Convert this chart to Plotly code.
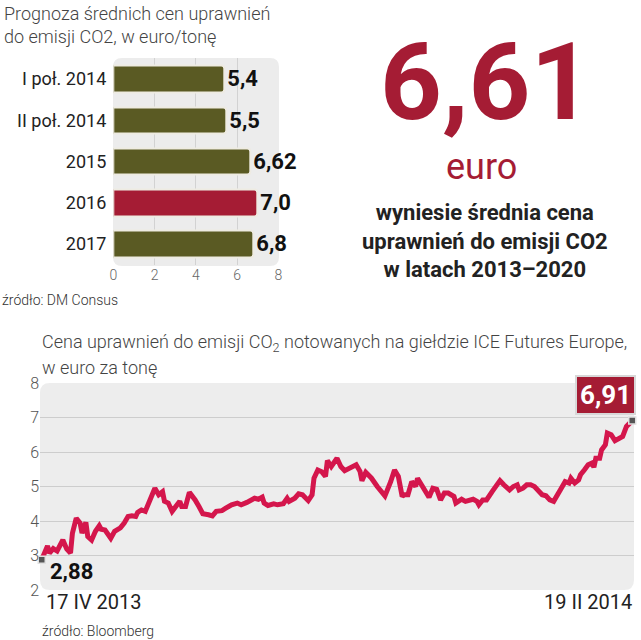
import pandas as pd
import plotly.graph_objects as go

# --- forecast bars (DM Consus)
bar_cats = ["I poł. 2014", "II poł. 2014", "2015", "2016", "2017"]
bar_vals = [5.4, 5.5, 6.62, 7.0, 6.8]
bar_text = ["5,4", "5,5", "6,62", "7,0", "6,8"]
bar_colors = ["#5a5a23", "#5a5a23", "#5a5a23", "#a51c34", "#5a5a23"]

# --- ICE Futures Europe price, days after 17 IV 2013
price_start = "2013-04-17"
price_days = [
    0, 3, 4, 6, 8, 10, 11, 13, 15, 16, 18, 20, 21, 23, 24, 26, 28, 30, 31, 33,
    35, 36, 38, 41, 43, 45, 47, 49, 50, 52, 54, 56, 57, 59, 61, 63, 64, 66, 68, 70,
    72, 73, 75, 77, 79, 80, 82, 84, 87, 89, 91, 94, 96, 99, 102, 104, 107, 109, 111, 113,
    115, 116, 118, 121, 123, 126, 128, 129, 132, 134, 136, 139, 141, 142, 144, 146, 148, 149, 151, 154,
    156, 158, 160, 162, 164, 166, 167, 169, 172, 175, 177, 179, 182, 184, 186, 188, 189, 191, 193, 195,
    196, 198, 201, 202, 204, 206, 208, 210, 212, 215, 216, 219, 221, 223, 225, 227, 228, 230, 232, 235,
    237, 239, 241, 242, 244, 246, 248, 249, 251, 253, 255, 257, 259, 261, 263, 265, 267, 269, 271, 273,
    275, 276, 278, 280, 281, 283, 285, 287, 288, 289, 291, 292, 294, 295, 297, 299, 301, 303, 305, 307,
    308,
]
price_vals = [
    2.88, 3.28, 3.07, 3.20, 3.13, 3.31, 3.45, 3.19, 3.07, 3.65, 4.08, 3.94, 3.65, 3.96, 3.55, 3.45, 3.70, 3.86, 3.76, 3.74,
    3.60, 3.50, 3.70, 3.80, 3.94, 4.13, 4.15, 4.13, 4.25, 4.32, 4.28, 4.57, 4.66, 4.95, 4.76, 4.85, 4.57, 4.52, 4.28, 4.42,
    4.57, 4.42, 4.42, 4.83, 4.71, 4.61, 4.42, 4.21, 4.18, 4.15, 4.28, 4.30, 4.37, 4.47, 4.52, 4.47, 4.54, 4.59, 4.66, 4.63,
    4.69, 4.52, 4.45, 4.50, 4.47, 4.50, 4.66, 4.57, 4.66, 4.79, 4.76, 4.59, 4.76, 5.24, 5.48, 5.43, 5.29, 5.75, 5.58, 5.82,
    5.58, 5.46, 5.53, 5.56, 5.63, 5.44, 5.17, 5.41, 5.24, 5.00, 4.86, 4.73, 5.14, 5.48, 5.29, 4.71, 4.76, 4.76, 5.14, 5.00,
    5.24, 5.05, 4.76, 4.69, 4.95, 4.92, 4.61, 4.81, 4.81, 4.71, 4.52, 4.63, 4.57, 4.59, 4.63, 4.57, 4.47, 4.61, 4.61, 4.86,
    5.05, 5.17, 5.05, 5.00, 4.90, 5.00, 5.05, 4.90, 4.95, 5.05, 5.05, 5.00, 4.86, 4.76, 4.73, 4.61, 4.57, 4.73, 4.95, 5.14,
    5.10, 5.24, 5.10, 5.19, 5.34, 5.48, 5.63, 5.68, 5.56, 5.82, 5.82, 6.06, 6.21, 6.55, 6.50, 6.33, 6.40, 6.45, 6.74, 6.88,
    6.91,
]
first_label, last_label = "2,88", "6,91"
date_labels = ["17 IV 2013", "19 II 2014"]

W, H = 641, 640
RED = "#a51c34"
LINE = "#d4164c"
FONT = "Roboto"


def px(x):
    return x / W


def py(y):
    return 1 - y / H


def rounded(x0, y0, x1, y1, r):
    # rounded rectangle in pixels -> paper path
    def p(x, y):
        return f"{px(x):.5f},{py(y):.5f}"
    return (f"M {p(x0 + r, y0)} L {p(x1 - r, y0)} Q {p(x1, y0)} {p(x1, y0 + r)} "
            f"L {p(x1, y1 - r)} Q {p(x1, y1)} {p(x1 - r, y1)} L {p(x0 + r, y1)} "
            f"Q {p(x0, y1)} {p(x0, y1 - r)} L {p(x0, y0 + r)} Q {p(x0, y0)} {p(x0 + r, y0)} Z")


dates = pd.Timestamp(price_start) + pd.to_timedelta(price_days, unit="D")

fig = go.Figure()

fig.add_trace(go.Bar(
    x=bar_vals, y=bar_cats, orientation="h",
    marker=dict(color=bar_colors, line=dict(color="#eeebe2", width=2), cornerradius=3),
    width=0.64,
    text=bar_text, textposition="outside", cliponaxis=False,
    textfont=dict(family=FONT, size=22, color="#111", weight=700),
    xaxis="x", yaxis="y", hoverinfo="skip",
))

fig.add_trace(go.Scatter(
    x=dates, y=price_vals, mode="lines",
    line=dict(color=LINE, width=5),
    xaxis="x2", yaxis="y2", hoverinfo="skip",
))

fig.add_trace(go.Scatter(
    x=[dates[0], dates[-1]], y=[price_vals[0], price_vals[-1]], mode="markers",
    marker=dict(symbol="square", size=7, color="#555", line=dict(color="#e0e0e0", width=1.5)),
    xaxis="x2", yaxis="y2", hoverinfo="skip", cliponaxis=False,
))

pad = pd.Timedelta(hours=22)
fig.update_layout(
    width=W, height=H, margin=dict(l=0, r=0, t=0, b=0, autoexpand=False),
    paper_bgcolor="white", plot_bgcolor="rgba(0,0,0,0)",
    showlegend=False, bargap=0,
    font=dict(family=FONT, color="#444"),
    xaxis=dict(
        domain=[px(113.3), px(278.3)], range=[0, 8], tickvals=[0, 2, 4, 6, 8],
        showgrid=False, zeroline=False, showline=False, ticks="", automargin=False,
        tickfont=dict(size=14, color="#666", weight=300),
        minor=dict(tickvals=[2, 4, 6], showgrid=True, gridcolor="#d2d2d2", gridwidth=1),
        anchor="y", fixedrange=True,
    ),
    yaxis=dict(
        domain=[py(264.6), py(58.4)], range=[4.5, -0.5], type="category",
        showgrid=False, zeroline=False, showline=False, ticks="", automargin=False,
        tickfont=dict(size=18, color="#222"), ticklabelstandoff=6,
        anchor="x", fixedrange=True,
    ),
    xaxis2=dict(
        domain=[px(40), px(634)],
        range=[dates[0] - pad, dates[-1] + pad],
        showgrid=False, zeroline=False, showline=False, showticklabels=False, ticks="",
        automargin=False, anchor="y2", fixedrange=True,
    ),
    yaxis2=dict(
        domain=[py(590), py(383)], range=[2, 8], tickvals=[2, 3, 4, 5, 6, 7, 8],
        showgrid=False, zeroline=False, showline=False, ticks="", automargin=False,
        tickfont=dict(size=16, color="#555", weight=300),
        minor=dict(tickvals=[3, 4, 5, 6, 7], showgrid=True, gridcolor="#cdcdcd", gridwidth=1),
        anchor="x2", fixedrange=True,
    ),
    shapes=[
        dict(type="path", path=rounded(113, 58, 279, 266, 9), xref="paper", yref="paper",
             fillcolor="#ececec", line=dict(width=0), layer="below"),
        dict(type="path", path=rounded(40, 383, 634, 590, 10), xref="paper", yref="paper",
             fillcolor="#ededed", line=dict(width=0), layer="below"),
    ],
)

ann = [
    dict(x=px(2), y=py(1), xanchor="left", yanchor="top", align="left",
         text="Prognoza średnich cen uprawnień<br>do emisji CO2, w euro/tonę",
         font=dict(size=18, color="#444", weight=300)),
    dict(x=px(0), y=py(300), xanchor="left", yanchor="middle",
         text="źródło: DM Consus", font=dict(size=14, color="#333", weight=300)),
    dict(x=px(486), y=py(82), xanchor="center", yanchor="middle",
         text="6,61", font=dict(size=108, color=RED, weight=700)),
    dict(x=px(481), y=py(167), xanchor="center", yanchor="middle",
         text="euro", font=dict(size=36, color=RED)),
    dict(x=px(485), y=py(241), xanchor="center", yanchor="middle", align="center",
         text="wyniesie średnia cena<br>uprawnień do emisji CO2<br>w latach 2013–2020",
         font=dict(size=22, color="#222", weight=700)),
    dict(x=px(40), y=py(343), xanchor="left", yanchor="middle",
         text="Cena uprawnień do emisji CO<sub>2</sub> notowanych na giełdzie ICE Futures Europe,",
         font=dict(size=18, color="#444", weight=300)),
    dict(x=px(40), y=py(367), xanchor="left", yanchor="middle",
         text="w euro za tonę", font=dict(size=18, color="#444", weight=300)),
    dict(x=px(44), y=py(602), xanchor="left", yanchor="middle",
         text=date_labels[0], font=dict(size=20, color="#222")),
    dict(x=px(634), y=py(602), xanchor="right", yanchor="middle",
         text=date_labels[1], font=dict(size=20, color="#222")),
    dict(x=px(40), y=py(631), xanchor="left", yanchor="middle",
         text="źródło: Bloomberg", font=dict(size=14, color="#333", weight=300)),
]
for a in ann:
    a.update(xref="paper", yref="paper", showarrow=False)

ann += [
    dict(x=dates[0], y=price_vals[0], xref="x2", yref="y2", showarrow=False,
         xanchor="left", yanchor="middle", xshift=6, yshift=-12,
         text=first_label, font=dict(size=22, color="#111", weight=700)),
    dict(x=dates[-1], y=price_vals[-1], xref="x2", yref="y2", showarrow=False,
         xanchor="center", yanchor="middle", xshift=-27, yshift=26,
         text=last_label, font=dict(size=26, color="white", weight=700),
         bgcolor=RED, bordercolor="#d8d8d8", borderwidth=2, borderpad=3),
]
fig.update_layout(annotations=ann)

# the page body has a default 8px margin; drop it so the figure sits at 0,0
fig.write_html("out.html", config={"displayModeBar": False},
               post_script="document.body.style.margin='0';")
